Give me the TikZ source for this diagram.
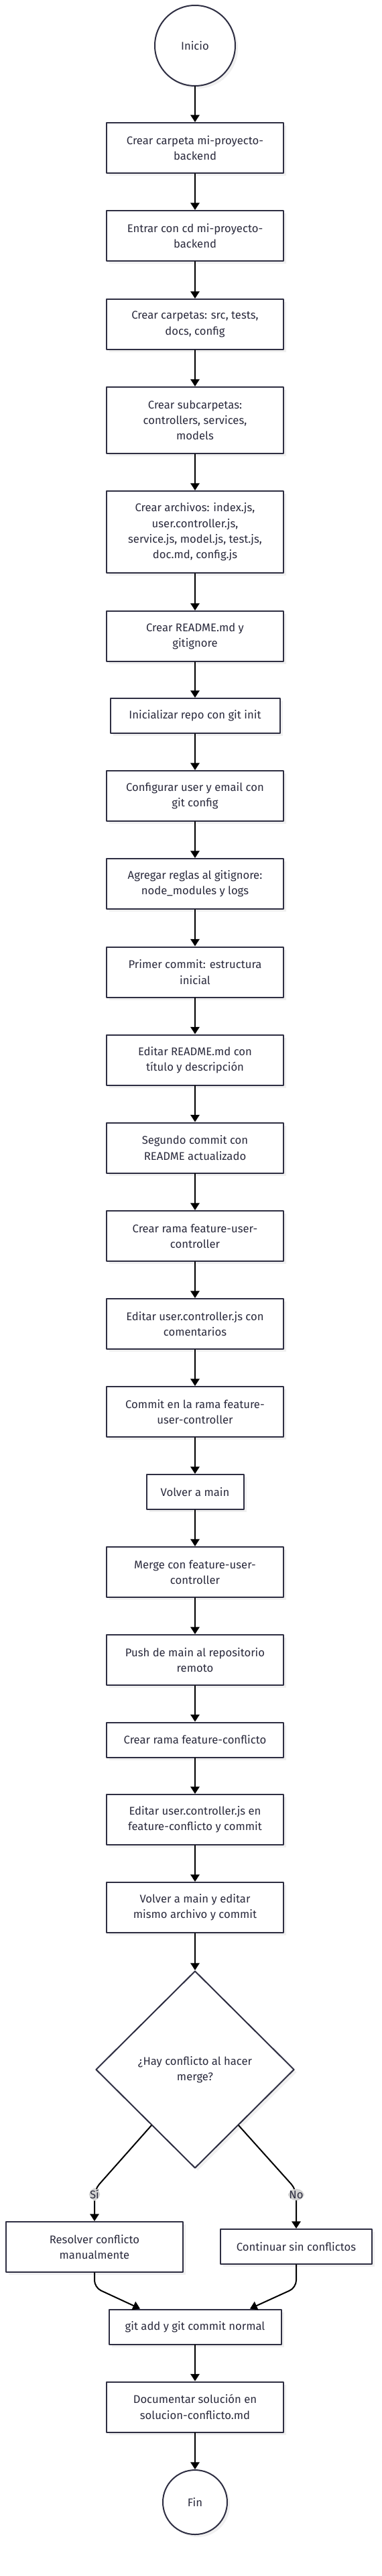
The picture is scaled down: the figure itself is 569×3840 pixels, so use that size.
\documentclass[tikz,border=0pt]{standalone}
\usepackage{fontspec}
\setmainfont{Fira Sans}
\usetikzlibrary{shapes.geometric, arrows.meta, shadows, calc}
\definecolor{tinta}{HTML}{2B2B3D}
\definecolor{borde}{HTML}{2E2E42}
\definecolor{fondoetiq}{HTML}{D2D2D2}

\begin{document}
\begin{tikzpicture}[x=0.75pt, y=-0.75pt, line cap = round, line join = round, >={Triangle[length=8pt, width=10pt]},
		paso/.style={draw=borde, line width=1.5pt, fill=white, text=tinta, align=center, inner sep=0pt,
			minimum width=198pt, minimum height=56.25pt, font=\fontsize{12.5}{17.5}\selectfont,
			drop shadow={shadow xshift=3pt, shadow yshift=-3pt, opacity=0.12}},
		terminal/.style={paso, circle, minimum width=0pt},
		pregunta/.style={paso, diamond, minimum width=222pt, minimum height=220.5pt},
		flecha/.style={->, black, line width=1.5pt},
		etiq/.style={fill=fondoetiq, text=tinta, inner xsep=1pt, inner ysep=2pt, font=\fontsize{12.5}{14}\selectfont}]
		\useasboundingbox (0,0) rectangle (569,3840);
		%\draw[red] (0,0) grid[step=100] (569,3840);
		
		% Inicio
		\node [terminal, minimum size=90pt] (inicio) at (291,68) {Inicio};
		% estructura del proyecto
		\node [paso] (carpeta) at (291,220.5) {Crear carpeta mi-proyecto-\\backend};
		\node [paso] (entrar) at (291,351.5) {Entrar con cd mi-proyecto-\\backend};
		\node [paso] (carpetas) at (291,483.5) {Crear carpetas: src, tests,\\docs, config};
		\node [paso, minimum height=74.25pt] (subcarpetas) at (291,626.5) {Crear subcarpetas:\\controllers, services,\\models};
		\node [paso, minimum height=91.5pt] (archivos) at (291,793) {Crear archivos: index.js,\\user.controller.js,\\service.js, model.js, test.js,\\doc.md, config.js};
		\node [paso] (readme) at (291,948.5) {Crear README.md y\\gitignore};
		% repositorio
		\node [paso, minimum width=189.75pt, minimum height=39pt] (init) at (291,1067) {Inicializar repo con git init};
		\node [paso] (config) at (291,1186.5) {Configurar user y email con\\git config};
		\node [paso] (reglas) at (291,1317.5) {Agregar reglas al gitignore:\\node\_modules y logs};
		\node [paso] (commituno) at (291,1449) {Primer commit: estructura\\inicial};
		\node [paso] (editreadme) at (291,1580) {Editar README.md con\\título y descripción};
		\node [paso] (commitdos) at (291,1711) {Segundo commit con\\README actualizado};
		% rama feature-user-controller
		\node [paso] (rama) at (291,1842.5) {Crear rama feature-user-\\controller};
		\node [paso] (editctrl) at (291,1973.5) {Editar user.controller.js con\\comentarios};
		\node [paso] (commitrama) at (291,2104.5) {Commit en la rama feature-\\user-controller};
		\node [paso, minimum width=108.75pt, minimum height=39pt] (volver) at (291,2224) {Volver a main};
		\node [paso] (merge) at (291,2343.5) {Merge con feature-user-\\controller};
		\node [paso] (push) at (291,2474.5) {Push de main al repositorio\\remoto};
		% rama feature-conflicto
		\node [paso, minimum height=39pt] (ramaconf) at (291,2593.5) {Crear rama feature-conflicto};
		\node [paso] (editconf) at (291,2712.5) {Editar user.controller.js en\\feature-conflicto y commit};
		\node [paso] (editmain) at (291,2843.5) {Volver a main y editar\\mismo archivo y commit};
		% decision
		\node [pregunta] (hay) at (291,3085) {¿Hay conflicto al hacer\\merge?};
		\node [paso] (resolver) at (141,3349.5) {Resolver conflicto\\manualmente};
		\node [paso, minimum width=169.5pt, minimum height=39pt] (continuar) at (442,3349) {Continuar sin conflictos};
		% cierre
		\node [paso, minimum width=192.75pt, minimum height=39pt] (gitadd) at (291,3468.5) {git add y git commit normal};
		\node [paso] (documentar) at (291,3588) {Documentar solución en\\solucion-conflicto.md};
		\node [terminal, minimum size=72pt] (fin) at (291,3730) {Fin};
		
		% flechas
		\draw [flecha] (inicio) -- (carpeta);
		\draw [flecha] (carpeta) -- (entrar);
		\draw [flecha] (entrar) -- (carpetas);
		\draw [flecha] (carpetas) -- (subcarpetas);
		\draw [flecha] (subcarpetas) -- (archivos);
		\draw [flecha] (archivos) -- (readme);
		\draw [flecha] (readme) -- (init);
		\draw [flecha] (init) -- (config);
		\draw [flecha] (config) -- (reglas);
		\draw [flecha] (reglas) -- (commituno);
		\draw [flecha] (commituno) -- (editreadme);
		\draw [flecha] (editreadme) -- (commitdos);
		\draw [flecha] (commitdos) -- (rama);
		\draw [flecha] (rama) -- (editctrl);
		\draw [flecha] (editctrl) -- (commitrama);
		\draw [flecha] (commitrama) -- (volver);
		\draw [flecha] (volver) -- (merge);
		\draw [flecha] (merge) -- (push);
		\draw [flecha] (push) -- (ramaconf);
		\draw [flecha] (ramaconf) -- (editconf);
		\draw [flecha] (editconf) -- (editmain);
		\draw [flecha] (editmain) -- (hay);
		% ramas de la decision
		\draw [flecha, rounded corners=8pt] (hay.232) -- (141,3264) -- node [etiq, pos=0.15] {Sí} (resolver.north);
		\draw [flecha, rounded corners=8pt] (hay.308) -- (442,3264) -- node [etiq, pos=0.13] {No} (continuar.north);
		% union
		\draw [flecha, rounded corners=8pt] (resolver.south) -- (141,3410) -- ($(gitadd.north)+(-82,0)$);
		\draw [flecha, rounded corners=8pt] (continuar.south) -- (442,3410) -- ($(gitadd.north)+(82,0)$);
		\draw [flecha] (gitadd) -- (documentar);
		\draw [flecha] (documentar) -- (fin);
	\end{tikzpicture}
\end{document}
